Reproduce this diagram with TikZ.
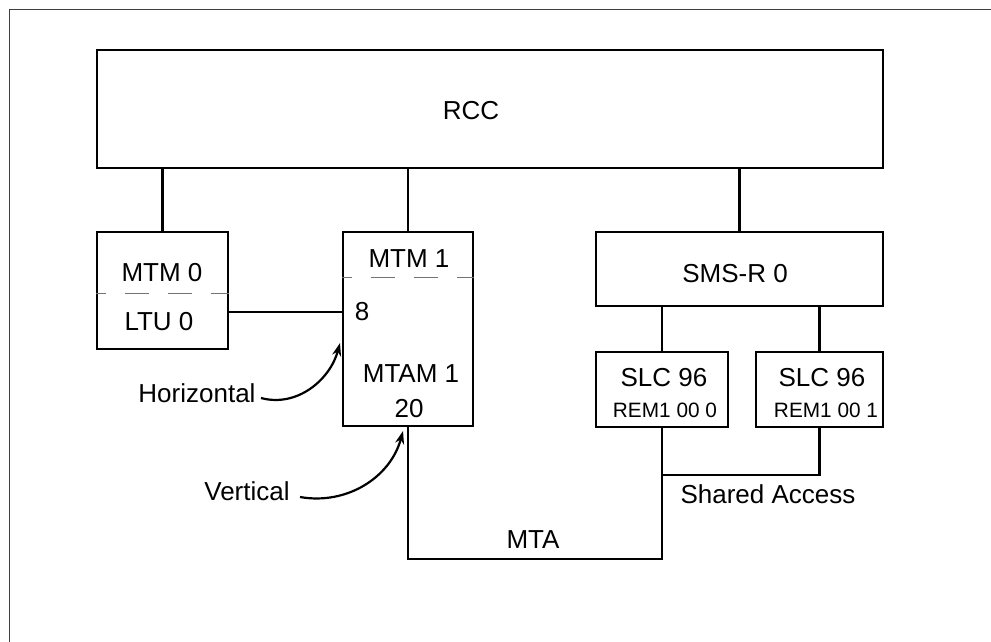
\documentclass[tikz,border=0pt]{standalone}
\usepackage{fontspec}
\setmainfont{Liberation Sans}
\usetikzlibrary{arrows.meta}
\begin{document}
\begin{tikzpicture}[x=1pt,y=-1pt,
  box/.style={draw=black,line width=2.4pt,rectangle,inner sep=0pt},
  lbl/.style={inner sep=0pt,font=\fontsize{26}{30}\selectfont},
  small/.style={inner sep=0pt,font=\fontsize{20.8}{24}\selectfont},
  wire/.style={line width=2.4pt},
  sep/.style={draw=black!55,line width=1pt,dash pattern=on 24pt off 19pt,dash phase=14pt},
  pointer/.style={line width=2.2pt,-{Stealth[length=13pt,width=9pt]}}]
\useasboundingbox (0,0) rectangle (991,641);
\draw[draw=black!75,line width=1.5pt] (9.5,660) |- (1010,9.5);
% boxes
\node[box,minimum width=786,minimum height=118] (rcc) at (490,109) {};
\node[lbl] at (471,111) {RCC};
\node[box,minimum width=131,minimum height=117] (mtm0) at (162.5,290.5) {};
\node[box,minimum width=130,minimum height=194] (mtm1) at (408,329) {};
\node[box,minimum width=287,minimum height=74] (sms) at (739.5,269) {};
\node[box,minimum width=132,minimum height=75] (slcA) at (662,389.5) {};
\node[box,minimum width=127,minimum height=75] (slcB) at (819.5,389.5) {};
% separators
\draw[sep] (mtm0.west |- 0,293) -- (mtm0.east |- 0,293);
\draw[sep] (mtm1.west |- 0,277) -- (mtm1.east |- 0,277);
% texts
\node[lbl] at (162,273) {MTM 0};
\node[lbl] at (159,322) {LTU 0};
\node[lbl] at (409,259) {MTM 1};
\node[lbl] at (362,312) {8};
\node[lbl] at (411,374) {MTAM 1};
\node[lbl] at (409,409) {20};
\node[lbl] at (735,274) {SMS-R 0};
\node[lbl] at (664,378) {SLC 96};
\node[small] at (665,410) {REM1 00 0};
\node[lbl] at (822,378) {SLC 96};
\node[small] at (826,410) {REM1 00 1};
\node[lbl] at (533,540) {MTA};
\node[lbl] at (768,494) {Shared Access};
\node[lbl] (hz) at (197,393) {Horizontal};
\node[lbl] (vt) at (247,491) {Vertical};
% connectors
\draw[wire] (mtm0.north) -- (mtm0.north |- rcc.south);
\draw[wire] (mtm1.north) -- (mtm1.north |- rcc.south);
\draw[wire] (sms.north) -- (sms.north |- rcc.south);
\draw[wire] (slcA.north) -- (slcA.north |- sms.south);
\draw[wire] (slcB.north) -- (slcB.north |- sms.south);
\draw[wire] (mtm0.east |- 0,312) -- (mtm1.west |- 0,312);
\coordinate (mtaY) at (0,559);
\coordinate (shY) at (0,475);
\draw[wire] (mtm1.south) |- (slcA.south |- mtaY) -- (slcA.south);
\draw[wire] (slcA.south |- shY) -| (slcB.south);
% pointers
\coordinate (hzs) at (261,398);
\coordinate (hzt) at (340,343);
\coordinate (vts) at (300,497);
\coordinate (vtt) at (403,431);
\draw[pointer] (hzs) to[out=-15,in=-105] (hzt);
\draw[pointer] (vts) to[out=-10,in=-105] (vtt);
\end{tikzpicture}
\end{document}
